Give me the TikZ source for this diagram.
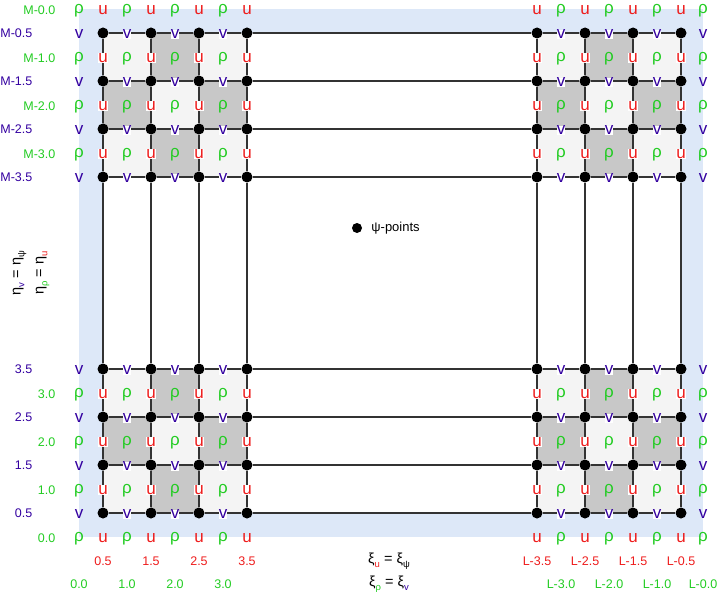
\documentclass[tikz,border=0pt]{standalone}
\usepackage{fontspec}
\setmainfont{Liberation Sans}
\usetikzlibrary{positioning}
\definecolor{bandblue}{HTML}{DDE8F8}
\definecolor{celllight}{HTML}{F4F4F4}
\definecolor{celldark}{HTML}{C8C8C8}
\definecolor{rhogreen}{HTML}{22CC22}
\definecolor{ured}{HTML}{EE1C1C}
\definecolor{vindigo}{HTML}{3300A0}
\newcommand{\subc}[2]{\raisebox{-0.5ex}{\fontsize{9.5}{9.5}\selectfont\color{#1}#2}}
\tikzset{
  psidot/.style={circle, fill=black, inner sep=0pt, minimum size=11pt},
  gridline/.style={black!80, line width=1.5pt},
  letter/.style={font=\fontsize{17}{17}\selectfont, inner sep=0pt},
  rholab/.style={letter, rhogreen},
  ulab/.style={letter, ured},
  vlab/.style={letter, vindigo},
  numlab/.style={font=\fontsize{12.5}{12.5}\selectfont, inner sep=0pt},
  eqlab/.style={font=\fontsize{14.5}{23}\selectfont, align=center, inner sep=0pt},
}
\begin{document}
\begin{tikzpicture}[x=1pt, y=-1pt]
  \useasboundingbox (0,0) rectangle (718,599);
  \fill[bandblue] (79,9) rectangle (703,537);
  \fill[white] (103,33) rectangle (681,513);
  % checker cells in the four corner blocks
  \foreach \ox in {103,537} \foreach \oy in {33,369}
    \foreach \a in {0,1,2} \foreach \b in {0,1,2} {
      \pgfmathtruncatemacro\k{\a+\b}
      \ifodd\k \def\cellcol{celldark}\else \def\cellcol{celllight}\fi
      \fill[\cellcol] (\ox+48*\a,\oy+48*\b) rectangle ++(48,48);
    }
  % psi points and grid lines
  \foreach \x [count=\i] in {103,151,199,247,537,585,633,681}
    \foreach \y [count=\j] in {33,81,129,177,369,417,465,513}
      \node[psidot] (p\i-\j) at (\x,\y) {};
  \foreach \i [count=\n from 2] in {1,...,7}
    \foreach \j in {1,...,8} {
      \draw[gridline] (p\i-\j) -- (p\n-\j);
      \draw[gridline] (p\j-\i) -- (p\j-\n);
    }
  % rho, u and v points
  \foreach \x [count=\i] in {79,127,175,223,561,609,657,703}
    \foreach \y [count=\j] in {9,57,105,153,393,441,489,537}
      \node[rholab] (r\i-\j) at (\x,\y+1.5) {ρ};
  \foreach \x [count=\i] in {103,151,199,247,537,585,633,681}
    \foreach \y [count=\j] in {9,57,105,153,393,441,489,537} {
      \ifnum\j=1 \def\bg{none}\else\ifnum\j=8 \def\bg{none}\else\def\bg{white}\fi\fi
      \node[ulab, fill=\bg] (u\i-\j) at (\x,\y+1) {u};
    }
  \foreach \x [count=\i] in {79,127,175,223,561,609,657,703}
    \foreach \y [count=\j] in {33,81,129,177,369,417,465,513} {
      \ifnum\i=1 \def\bg{none}\else\ifnum\i=8 \def\bg{none}\else\def\bg{white}\fi\fi
      \node[vlab, fill=\bg] (v\i-\j) at (\x,\y+1.5) {v};
    }
  % axis numbers
  \foreach \t/\y [count=\i] in {M-0.5/33,M-1.5/81,M-2.5/129,M-3.5/177,3.5/369,2.5/417,1.5/465,0.5/513}
    \node[numlab, vindigo, anchor=east] (ev\i) at (32.5,\y+0.5) {\t};
  \foreach \t/\y [count=\i] in {M-0.0/9,M-1.0/57,M-2.0/105,M-3.0/153,3.0/393,2.0/441,1.0/489,0.0/537}
    \node[numlab, rhogreen, anchor=east] (er\i) at (55.5,\y+1.5) {\t};
  \foreach \t/\x [count=\i] in {0.5/103,1.5/151,2.5/199,3.5/247,L-3.5/537,L-2.5/585,L-1.5/633,L-0.5/681}
    \node[numlab, ured] (xu\i) at (\x,561) {\t};
  \foreach \t/\x [count=\i] in {0.0/79,1.0/127,2.0/175,3.0/223,L-3.0/561,L-2.0/609,L-1.0/657,L-0.0/703}
    \node[numlab, rhogreen] (xr\i) at (\x,584) {\t};
  % legend and axis names
  \node[psidot, minimum size=10pt] (key) at (357,228) {};
  \node[numlab, font=\fontsize{13}{13}\selectfont, right=9pt of key] (keytext) {ψ-points};
  \node[eqlab] (xiname) at (389,573) {ξ\subc{ured}{u} = ξ\subc{black}{ψ}\\ξ\subc{rhogreen}{ρ} = ξ\subc{vindigo}{v}};
  \node[eqlab, rotate=90] (etaname) at (31,273) {η\subc{vindigo}{v} = η\subc{black}{ψ}\\η\subc{rhogreen}{ρ} = η\subc{ured}{u}};
\end{tikzpicture}
\end{document}
